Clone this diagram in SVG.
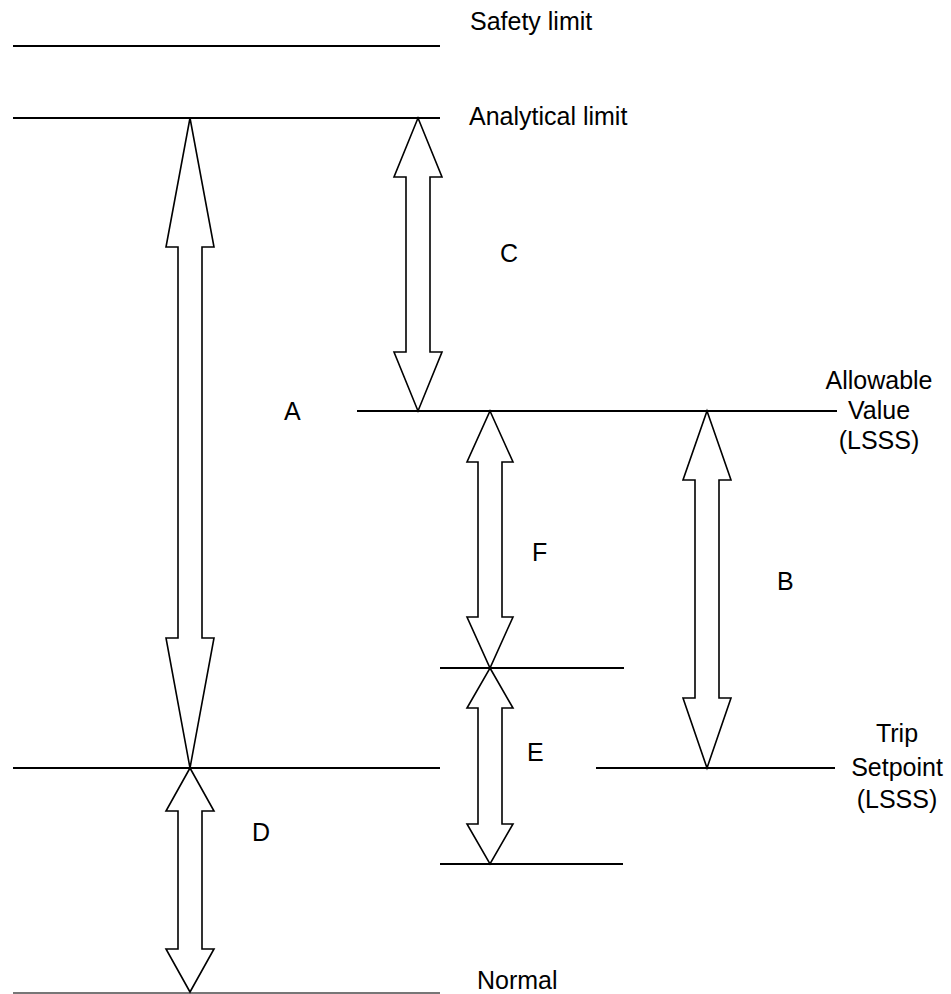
<svg xmlns="http://www.w3.org/2000/svg" width="951" height="994" viewBox="0 0 951 994">
<style>
.ln{stroke:#000;stroke-width:2;fill:none}
.ar{stroke:#000;stroke-width:1.6;fill:#fff;stroke-linejoin:miter}
text{font-family:"Liberation Sans",Arial,sans-serif;font-size:25px;fill:#000}
.c{text-anchor:middle}
</style>
<rect width="951" height="994" fill="#fff"/>
<g id="safety-limit">
<line class="ln" x1="13" y1="46" x2="440" y2="46"/>
<text x="470" y="30">Safety limit</text>
</g>
<g id="analytical-limit">
<line class="ln" x1="13" y1="118" x2="440" y2="118"/>
<text x="469" y="125">Analytical limit</text>
</g>
<g id="allowable-value">
<line class="ln" x1="357" y1="411" x2="837" y2="411"/>
<text class="c" x="879" y="389">Allowable</text>
<text class="c" x="879" y="419">Value</text>
<text class="c" x="879" y="449">(LSSS)</text>
</g>
<g id="fe-level">
<line class="ln" x1="440" y1="668" x2="624" y2="668"/>
</g>
<g id="trip-setpoint">
<line class="ln" x1="13" y1="768" x2="440" y2="768"/>
<line class="ln" x1="596" y1="768" x2="835" y2="768"/>
<text class="c" x="897" y="742">Trip</text>
<text class="c" x="897" y="776">Setpoint</text>
<text class="c" x="897" y="808">(LSSS)</text>
</g>
<g id="e-bottom">
<line class="ln" x1="440" y1="864" x2="623" y2="864"/>
</g>
<g id="normal">
<line x1="13" y1="993" x2="440" y2="993" stroke="#777" stroke-width="2"/>
<text x="477" y="989">Normal</text>
</g>
<g id="connectors">
<polygon id="arrow-A" class="ar" points="190,118 214,247 202,247 202,638 214,638 190,768 166,638 178,638 178,247 166,247"/>
<polygon id="arrow-C" class="ar" points="418,118 442,177 430,177 430,352 442,352 418,411 394,352 406,352 406,177 394,177"/>
<polygon id="arrow-F" class="ar" points="490,411 513,462 502,462 502,617 513,617 490,668 467,617 478,617 478,462 467,462"/>
<polygon id="arrow-E" class="ar" points="490,668 513,708 502,708 502,824 513,824 490,864 467,824 478,824 478,708 467,708"/>
<polygon id="arrow-B" class="ar" points="707,411 731,480 719,480 719,698 731,698 707,768 683,698 695,698 695,480 683,480"/>
<polygon id="arrow-D" class="ar" points="190,768 214,811 202,811 202,949 214,949 190,992 166,949 178,949 178,811 166,811"/>
</g>
<g id="labels">
<text x="500" y="262">C</text>
<text x="284" y="420">A</text>
<text x="532" y="561">F</text>
<text x="777" y="590">B</text>
<text x="527" y="761">E</text>
<text x="252" y="841">D</text>
</g>
</svg>
